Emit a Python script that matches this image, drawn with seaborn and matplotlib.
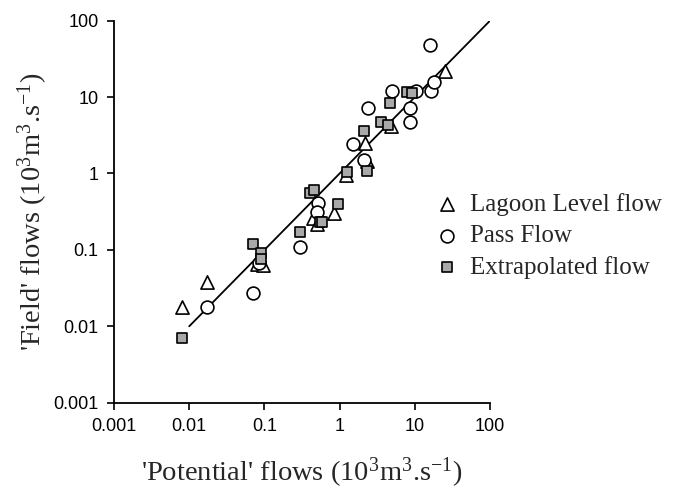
import numpy as np
import pandas as pd
import matplotlib
matplotlib.use("Agg")
import matplotlib.pyplot as plt
import seaborn as sns

# ---- data ----
lagoon_x = [0.008, 0.017, 0.08, 0.095, 0.44, 0.5, 0.83, 1.2, 2.3, 2.2, 4.8, 25]
lagoon_y = [0.018, 0.038, 0.065, 0.063, 0.26, 0.22, 0.30, 0.95, 1.45, 2.5, 4.2, 22]

pass_x = [0.017, 0.07, 0.085, 0.3, 0.52, 0.5, 1.5, 2.1, 2.4, 4.9, 8.7, 8.7, 10.5, 16.5, 18, 16]
pass_y = [0.018, 0.027, 0.068, 0.108, 0.41, 0.31, 2.45, 1.5, 7.3, 12, 7.1, 4.7, 12, 12, 16, 48]

extra_x = [0.008, 0.07, 0.09, 0.09, 0.3, 0.4, 0.45, 0.55, 0.58, 0.95, 1.25, 2.3,
           2.1, 3.5, 4.4, 4.7, 7.8, 9.2]
extra_y = [0.007, 0.12, 0.09, 0.075, 0.17, 0.56, 0.6, 0.23, 0.23, 0.4, 1.05, 1.08,
           3.6, 4.7, 4.3, 8.3, 11.5, 11.2]

line_x = [0.01, 100]
line_y = [0.01, 100]

series_names = ["Lagoon Level flow", "Pass Flow", "Extrapolated flow"]
tick_values = [0.001, 0.01, 0.1, 1, 10, 100]
tick_labels = ["0.001", "0.01", "0.1", "1", "10", "100"]

x_label = "'Potential' flows (10$^{3}$m$^{3}$.s$^{-1}$)"
y_label = "'Field' flows (10$^{3}$m$^{3}$.s$^{-1}$)"

# ---- style ----
sns.set_theme(style="ticks")
plt.rcParams["font.family"] = ["Liberation Sans", "DejaVu Sans"]
plt.rcParams["mathtext.fontset"] = "custom"
plt.rcParams["mathtext.rm"] = "Liberation Serif"
plt.rcParams["mathtext.default"] = "rm"

df = pd.concat([
    pd.DataFrame({"x": lagoon_x, "y": lagoon_y, "series": series_names[0]}),
    pd.DataFrame({"x": pass_x, "y": pass_y, "series": series_names[1]}),
    pd.DataFrame({"x": extra_x, "y": extra_y, "series": series_names[2]}),
], ignore_index=True)
line_df = pd.DataFrame({"x": line_x, "y": line_y})

fig = plt.figure(figsize=(6.75, 4.9), dpi=100)
ax = fig.add_axes([114 / 675, 1 - 402.7 / 490, 376 / 675, 382 / 490])

sns.lineplot(data=line_df, x="x", y="y", ax=ax, color="black", linewidth=1.3,
             legend=False)

styles = {
    series_names[0]: dict(marker="^", s=90, facecolor="white"),
    series_names[1]: dict(marker="o", s=85, facecolor="white"),
    series_names[2]: dict(marker="s", s=52, facecolor="#a9a9a9"),
}
for name in series_names:
    st = styles[name]
    sns.scatterplot(data=df[df["series"] == name], x="x", y="y", ax=ax,
                    marker=st["marker"], s=st["s"], color=st["facecolor"],
                    edgecolor="black", linewidth=1.2, label=name, zorder=3)

ax.set_xscale("log")
ax.set_yscale("log")
ax.set_xlim(0.001, 100)
ax.set_ylim(0.001, 100)
ax.set_xticks(tick_values)
ax.set_xticklabels(tick_labels)
ax.set_yticks(tick_values)
ax.set_yticklabels(tick_labels)
ax.minorticks_off()
ax.tick_params(axis="both", direction="out", length=5, width=1.2,
               labelsize=13, colors="black", pad=6)
for side in ["top", "right"]:
    ax.spines[side].set_visible(False)
for side in ["left", "bottom"]:
    ax.spines[side].set_linewidth(1.3)
    ax.spines[side].set_color("black")

ax.set_xlabel(x_label, fontsize=20.5, family="Liberation Serif", labelpad=15)
ax.set_ylabel(y_label, fontsize=20.5, family="Liberation Serif")
ax.yaxis.set_label_coords(-0.17, 0.5)

leg = ax.legend(loc="center left", bbox_to_anchor=(437 / 675, 1 - 236 / 490),
                bbox_transform=fig.transFigure, frameon=False,
                prop={"family": "Liberation Serif", "size": 18},
                handlelength=0.8, handletextpad=0.52, labelspacing=0.35,
                borderpad=0, borderaxespad=0)

fig.savefig("out.png", dpi=100)
